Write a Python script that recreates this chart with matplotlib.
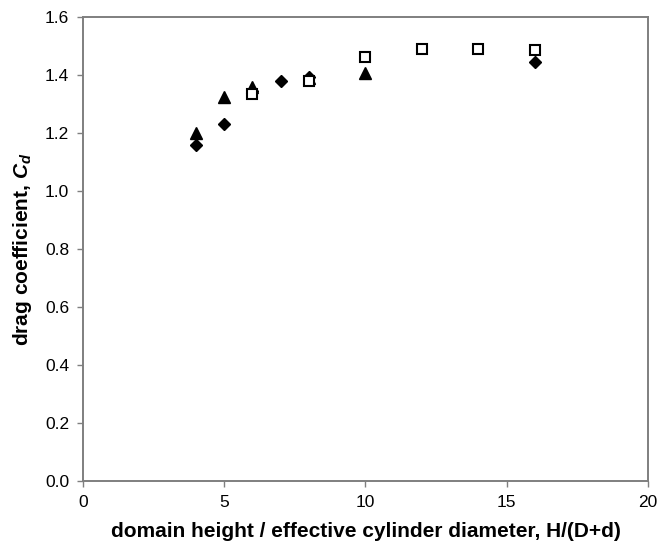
import matplotlib
matplotlib.use("Agg")
import matplotlib.pyplot as plt

plt.rcParams['font.family'] = ['Liberation Sans', 'DejaVu Sans']
plt.rcParams['mathtext.fontset'] = 'custom'
plt.rcParams['mathtext.it'] = 'Liberation Sans:italic:bold'
plt.rcParams['mathtext.rm'] = 'Liberation Sans:bold'

# Drag coefficient vs. domain blockage, three grid/series sets
x_diamond = [4, 5, 6, 7, 8, 16]
cd_diamond = [1.159, 1.231, 1.345, 1.379, 1.393, 1.445]

x_triangle = [4, 5, 6, 8, 10]
cd_triangle = [1.200, 1.324, 1.360, 1.390, 1.407]

x_square = [6, 8, 10, 12, 14, 16]
cd_square = [1.335, 1.380, 1.462, 1.490, 1.490, 1.487]

x_ticks = [0, 5, 10, 15, 20]
y_ticks = [0.0, 0.2, 0.4, 0.6, 0.8, 1.0, 1.2, 1.4, 1.6]

fig = plt.figure(figsize=(6.67, 5.54), dpi=100)
ax = fig.add_axes([0.1244, 0.1318, 0.8471, 0.8375])

ax.plot(x_triangle, cd_triangle, linestyle='none', marker='^', markersize=8,
        color='black', markeredgecolor='black', zorder=3)
ax.plot(x_diamond, cd_diamond, linestyle='none', marker='D', markersize=6.5,
        color='black', markeredgecolor='black', zorder=4)
ax.plot(x_square, cd_square, linestyle='none', marker='s', markersize=7,
        markerfacecolor='white', markeredgecolor='black', markeredgewidth=1.5,
        zorder=5)

ax.set_xlim(0, 20)
ax.set_ylim(0, 1.6)
ax.set_xticks(x_ticks)
ax.set_yticks(y_ticks)
ax.set_xticklabels([str(t) for t in x_ticks])
ax.set_yticklabels([f"{t:.1f}" for t in y_ticks])

for s in ax.spines.values():
    s.set_color('#7f7f7f')
    s.set_linewidth(1.4)
ax.tick_params(axis='both', direction='out', length=4, width=1.0,
               color='#7f7f7f', labelsize=12.5, pad=6)

ax.set_xlabel('domain height / effective cylinder diameter, H/(D+d)',
              fontsize=15, fontweight='bold', labelpad=9)
ax.set_ylabel(r'drag coefficient, $C_d$', fontsize=15,
              fontweight='bold', labelpad=8)

fig.savefig('out.png', dpi=100)
